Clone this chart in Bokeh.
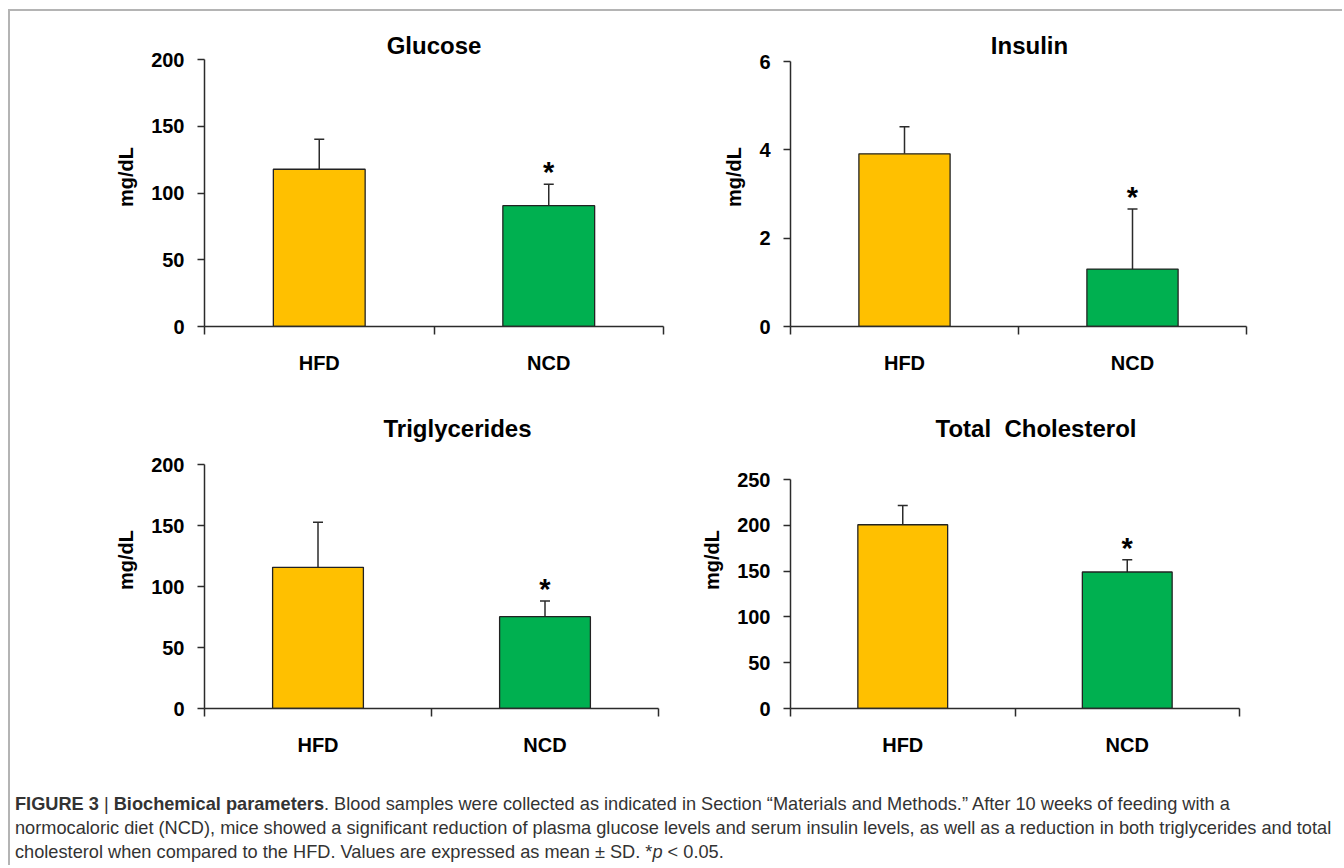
from bokeh.plotting import figure
from bokeh.models import Range1d, FixedTicker, ColumnDataSource, Whisker, TeeHead, Div
from bokeh.layouts import row, column
from bokeh.embed import file_html
from bokeh.resources import INLINE
from bokeh.core.properties import value

# ---------------- data ----------------
groups = ["HFD", "NCD"]
bar_colors = ["#FFC000", "#00B050"]
significance = ["", "*"]

glucose_mean = [117.8, 90.5]
glucose_sd = [22.5, 16.1]

insulin_mean = [3.91, 1.30]
insulin_sd = [0.61, 1.36]

tg_mean = [115.7, 75.3]
tg_sd = [36.9, 12.9]

chol_mean = [200.6, 149.0]
chol_sd = [21.1, 13.4]

FONT = "Liberation Sans"
INK = "#2b2b2b"


def panel(title, means, sds, ymax, ystep, width, height,
          bl, br, bt, bb, top_px, t_dy, t_dx):
    """top_px: pixel (from figure top) where the ymax tick sits."""
    xs = [i + 0.5 for i in range(len(groups))]
    fh = height - bt - bb
    y_end = ymax * fh / (fh - (top_px - bt))
    src = ColumnDataSource(dict(
        x=xs, top=means, upper=[m + s for m, s in zip(means, sds)],
        color=bar_colors, sig=significance))
    p = figure(width=width, height=height,
               x_range=Range1d(0, len(groups)), y_range=Range1d(0, y_end),
               output_backend="svg", toolbar_location=None,
               min_border_left=bl, min_border_right=br,
               min_border_top=bt, min_border_bottom=bb,
               background_fill_color="white", border_fill_color="white",
               outline_line_color=None)
    p.grid.visible = False
    p.title.visible = False

    # chart title drawn inside the (taller) frame, above the top tick
    p.text(x=[len(groups) / 2], y=[ymax], text=[title],
           x_offset=t_dx, y_offset=t_dy,
           text_font=value(FONT), text_font_style="bold",
           text_font_size="24px", text_align="center",
           text_baseline="middle", text_color="black")

    p.vbar(x="x", top="top", bottom=0, width=0.4, fill_color="color",
           line_color="#222222", line_width=1.3, source=src)
    w = Whisker(base="x", lower="top", upper="upper", source=src,
                dimension="height", line_color=INK, line_width=1.5,
                lower_head=None,
                upper_head=TeeHead(size=10, line_color=INK, line_width=1.5))
    p.add_layout(w)
    p.text(x="x", y="upper", text="sig", source=src, y_offset=-12,
           text_font=value(FONT), text_font_style="bold",
           text_font_size="29px", text_align="center",
           text_baseline="alphabetic", text_color="black")

    xa = p.xaxis[0]
    xa.ticker = FixedTicker(ticks=xs, minor_ticks=list(range(len(groups) + 1)))
    xa.major_label_overrides = {x: g for x, g in zip(xs, groups)}
    xa.major_tick_line_color = None
    xa.major_tick_out = 0
    xa.major_tick_in = 0
    xa.minor_tick_in = 0
    xa.minor_tick_out = 8
    xa.minor_tick_line_color = INK
    xa.minor_tick_line_width = 1.5
    xa.axis_line_color = INK
    xa.axis_line_width = 1.5
    xa.major_label_standoff = 17
    xa.major_label_text_font = FONT
    xa.major_label_text_font_size = "20px"
    xa.major_label_text_font_style = "bold"
    xa.major_label_text_color = "black"

    ya = p.yaxis[0]
    ya.bounds = (0, ymax)
    ya.ticker = FixedTicker(ticks=list(range(0, int(ymax) + 1, ystep)))
    ya.minor_tick_line_color = None
    ya.major_tick_out = 7
    ya.major_tick_in = 0
    ya.major_tick_line_color = INK
    ya.major_tick_line_width = 1.5
    ya.axis_line_color = INK
    ya.axis_line_width = 1.5
    ya.major_label_standoff = 13
    ya.major_label_text_font = FONT
    ya.major_label_text_font_size = "20px"
    ya.major_label_text_font_style = "bold"
    ya.major_label_text_color = "black"
    ya.axis_label = "mg/dL"
    ya.axis_label_text_font = FONT
    ya.axis_label_text_font_size = "20px"
    ya.axis_label_text_font_style = "bold"
    ya.axis_label_text_color = "black"
    ya.axis_label_standoff = 11
    return p


# row 1 starts at page y=11, row 2 at page y=395
p1 = panel("Glucose", glucose_mean, glucose_sd, 200, 50, 662, 384,
           194, 9, 16, 69, 48, -14, 0)
p2 = panel("Insulin", insulin_mean, insulin_sd, 6, 2, 670, 384,
           118, 96, 16, 69, 50, -16, 11)
p3 = panel("Triglycerides", tg_mean, tg_sd, 200, 50, 662, 380,
           194, 14, 16, 67, 69, -36, 26)
p4 = panel("Total\u00a0 Cholesterol", chol_mean, chol_sd, 250, 50, 670, 380,
           118, 103, 16, 67, 84, -51, 21)

caption = Div(
    text=("<b>FIGURE 3</b> | <b>Biochemical parameters</b>. Blood samples were collected as "
          "indicated in Section \u201cMaterials and Methods.\u201d After 10 weeks of feeding with a<br>"
          "normocaloric diet (NCD), mice showed a significant reduction of plasma glucose levels "
          "and serum insulin levels, as well as a reduction in both triglycerides and total<br>"
          "cholesterol when compared to the HFD. Values are expressed as mean \u00b1 SD. "
          "*<i>p</i> &lt; 0.05."),
    width=1320, height=80,
    styles={"font-family": "Liberation Sans, Arial, sans-serif",
            "font-size": "18.2px", "line-height": "24px", "color": "#333333",
            "white-space": "nowrap", "padding-left": "0px", "padding-top": "12px",
            "overflow": "visible"})

layout = column(row(p1, p2), row(p3, p4), caption,
                styles={"border-left": "2px solid #b4b4b4",
                        "border-top": "2px solid #b4b4b4",
                        "margin-left": "8px", "margin-top": "9px"})

open("out.html", "w").write(file_html(layout, INLINE))
